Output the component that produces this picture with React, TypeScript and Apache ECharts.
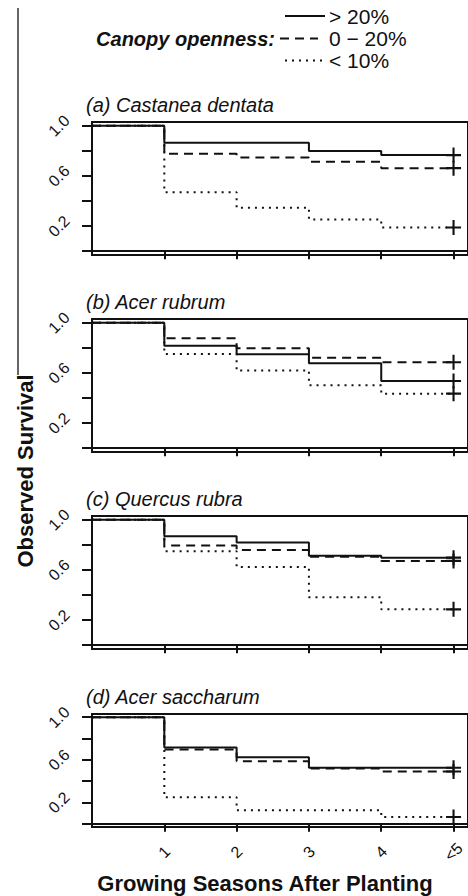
import React, { useEffect, useRef } from "react";
import * as echarts from "echarts";

// ---- data ----
const seasons = [0, 1, 2, 3, 4, 5];
const xTickValues = [1, 2, 3, 4, 5];
const xTickLabels = ["1", "2", "3", "4", "<5"];
const yTickValues = [0, 0.2, 0.4, 0.6, 0.8, 1.0];
const yLabelValues = [0.2, 0.6, 1.0];
const panelTitles = ["(a) Castanea dentata", "(b) Acer rubrum", "(c) Quercus rubra", "(d) Acer saccharum"];
const legendTitle = "Canopy openness:";
const legendLabels = ["> 20%", "0 \u2212 20%", "< 10%"];

// survival by canopy class (>20%, 0-20%, <10%)
const castaneaOpen = [1, 0.864, 0.864, 0.798, 0.766, 0.766];
const castaneaMid = [1, 0.777, 0.748, 0.713, 0.662, 0.662];
const castaneaLow = [1, 0.471, 0.346, 0.253, 0.189, 0.189];

const rubrumOpen = [1, 0.816, 0.75, 0.677, 0.536, 0.536];
const rubrumMid = [1, 0.877, 0.797, 0.722, 0.685, 0.685];
const rubrumLow = [1, 0.752, 0.619, 0.502, 0.435, 0.435];

const quercusOpen = [1, 0.869, 0.818, 0.714, 0.698, 0.698];
const quercusMid = [1, 0.794, 0.76, 0.706, 0.672, 0.672];
const quercusLow = [1, 0.75, 0.624, 0.382, 0.286, 0.286];

const saccharumOpen = [1, 0.715, 0.624, 0.526, 0.526, 0.526];
const saccharumMid = [1, 0.696, 0.586, 0.519, 0.491, 0.491];
const saccharumLow = [1, 0.248, 0.127, 0.127, 0.064, 0.064];

const xTitle = "Growing Seasons After Planting";
const yTitle = "Observed Survival";

const panels = [
  [castaneaOpen, castaneaMid, castaneaLow],
  [rubrumOpen, rubrumMid, rubrumLow],
  [quercusOpen, quercusMid, quercusLow],
  [saccharumOpen, saccharumMid, saccharumLow],
];

const FONT = "'Liberation Sans', Arial, Helvetica, sans-serif";
const INK = "#111";
const dashStyles: any[] = ["solid", [9, 6], [2, 5]];
const PLUS = "path://M4.3,0H5.7V4.3H10V5.7H5.7V10H4.3V5.7H0V4.3H4.3Z";

export default function App() {
  const ref = useRef<HTMLDivElement>(null);

  useEffect(() => {
    if (!ref.current) return;
    const chart = echarts.init(ref.current, null, { renderer: "svg" });

    const tops = [122, 319, 516, 714];
    const heights = [133, 133, 133, 113];
    const left = 92;
    const width = 377;

    const grid = tops.map((t, i) => ({
      left,
      top: t,
      width,
      height: heights[i],
      show: true,
      borderColor: INK,
      borderWidth: 2,
      backgroundColor: "transparent",
    }));

    const xAxis = tops.map((_, i) => ({
      type: "value",
      gridIndex: i,
      min: 0,
      max: 5.2,
      axisLine: { show: true, lineStyle: { color: INK, width: 2 } },
      axisTick: {
        show: true,
        inside: false,
        length: 8,
        customValues: xTickValues,
        lineStyle: { color: INK, width: 2 },
      },
      axisLabel: {
        show: i === 3,
        customValues: xTickValues,
        rotate: 45,
        align: "center",
        verticalAlign: "middle",
        margin: 25,
        fontSize: 16,
        fontFamily: FONT,
        color: INK,
        formatter: (v: number) => xTickLabels[xTickValues.indexOf(v)] ?? "",
      },
      splitLine: { show: false },
    }));

    const yAxis = tops.map((_, i) => ({
      type: "value",
      gridIndex: i,
      min: -0.03,
      max: 1.03,
      axisLine: { show: true, lineStyle: { color: INK, width: 2 } },
      axisTick: {
        show: true,
        inside: false,
        length: 10,
        customValues: yTickValues,
        lineStyle: { color: INK, width: 2 },
      },
      axisLabel: {
        show: true,
        customValues: yLabelValues,
        rotate: 45,
        align: "center",
        verticalAlign: "middle",
        margin: 33,
        fontSize: 16,
        fontFamily: FONT,
        color: INK,
        hideOverlap: false,
        formatter: (v: number) => v.toFixed(1),
      },
      splitLine: { show: false },
    }));

    const series: any[] = [];
    panels.forEach((curves, pi) => {
      curves.forEach((vals, ci) => {
        series.push({
          type: "line",
          xAxisIndex: pi,
          yAxisIndex: pi,
          step: "end",
          symbol: "none",
          data: seasons.map((s, k) => [s, vals[k]]),
          lineStyle: { color: INK, width: 2, type: dashStyles[ci], cap: "butt", opacity: 1 },
          z: 3 - ci,
        });
      });
      series.push({
        type: "scatter",
        xAxisIndex: pi,
        yAxisIndex: pi,
        symbol: PLUS,
        symbolSize: 15,
        itemStyle: { color: INK, opacity: 1 },
        data: curves.map((vals) => [seasons[seasons.length - 1], vals[vals.length - 1]]),
        z: 5,
      });
    });

    const graphic: any[] = [];
    // stray vertical rule at left
    graphic.push({
      type: "line",
      shape: { x1: 18, y1: 8, x2: 18, y2: 375 },
      style: { stroke: "#333", lineWidth: 1.5 },
    });
    // legend
    graphic.push({
      type: "text",
      x: 275,
      y: 39,
      style: {
        text: legendTitle,
        font: `italic bold 20px ${FONT}`,
        fill: INK,
        align: "right",
        verticalAlign: "middle",
      },
    });
    const legendYs = [16, 38.5, 60.5];
    const sampleX = [[285, 325], [280, 318], [285, 322]];
    legendLabels.forEach((lab, i) => {
      graphic.push({
        type: "line",
        shape: { x1: sampleX[i][0], y1: legendYs[i], x2: sampleX[i][1], y2: legendYs[i] },
        style: {
          stroke: INK,
          lineWidth: 2,
          lineDash: i === 0 ? null : dashStyles[i],
        },
      });
      graphic.push({
        type: "text",
        x: 329,
        y: legendYs[i],
        style: {
          text: lab,
          font: `21px ${FONT}`,
          fill: INK,
          align: "left",
          verticalAlign: "middle",
        },
      });
    });
    // panel titles
    panelTitles.forEach((t, i) => {
      graphic.push({
        type: "text",
        x: 86,
        y: tops[i] - 17,
        style: {
          text: t,
          font: `italic 20px ${FONT}`,
          fill: INK,
          align: "left",
          verticalAlign: "middle",
        },
      });
    });
    // axis titles
    graphic.push({
      type: "text",
      x: 25,
      y: 471,
      rotation: Math.PI / 2,
      style: {
        text: yTitle,
        font: `bold 22px ${FONT}`,
        fill: INK,
        align: "center",
        verticalAlign: "middle",
      },
    });
    graphic.push({
      type: "text",
      x: 265,
      y: 883,
      style: {
        text: xTitle,
        font: `bold 22px ${FONT}`,
        fill: INK,
        align: "center",
        verticalAlign: "middle",
      },
    });

    chart.setOption({
      animation: false,
      backgroundColor: "#fff",
      grid,
      xAxis,
      yAxis,
      series,
      graphic,
    });

    return () => chart.dispose();
  }, []);

  return (
    <div
      ref={ref}
      style={{ position: "absolute", left: 0, top: 0, width: 468, height: 896 }}
    />
  );
}
